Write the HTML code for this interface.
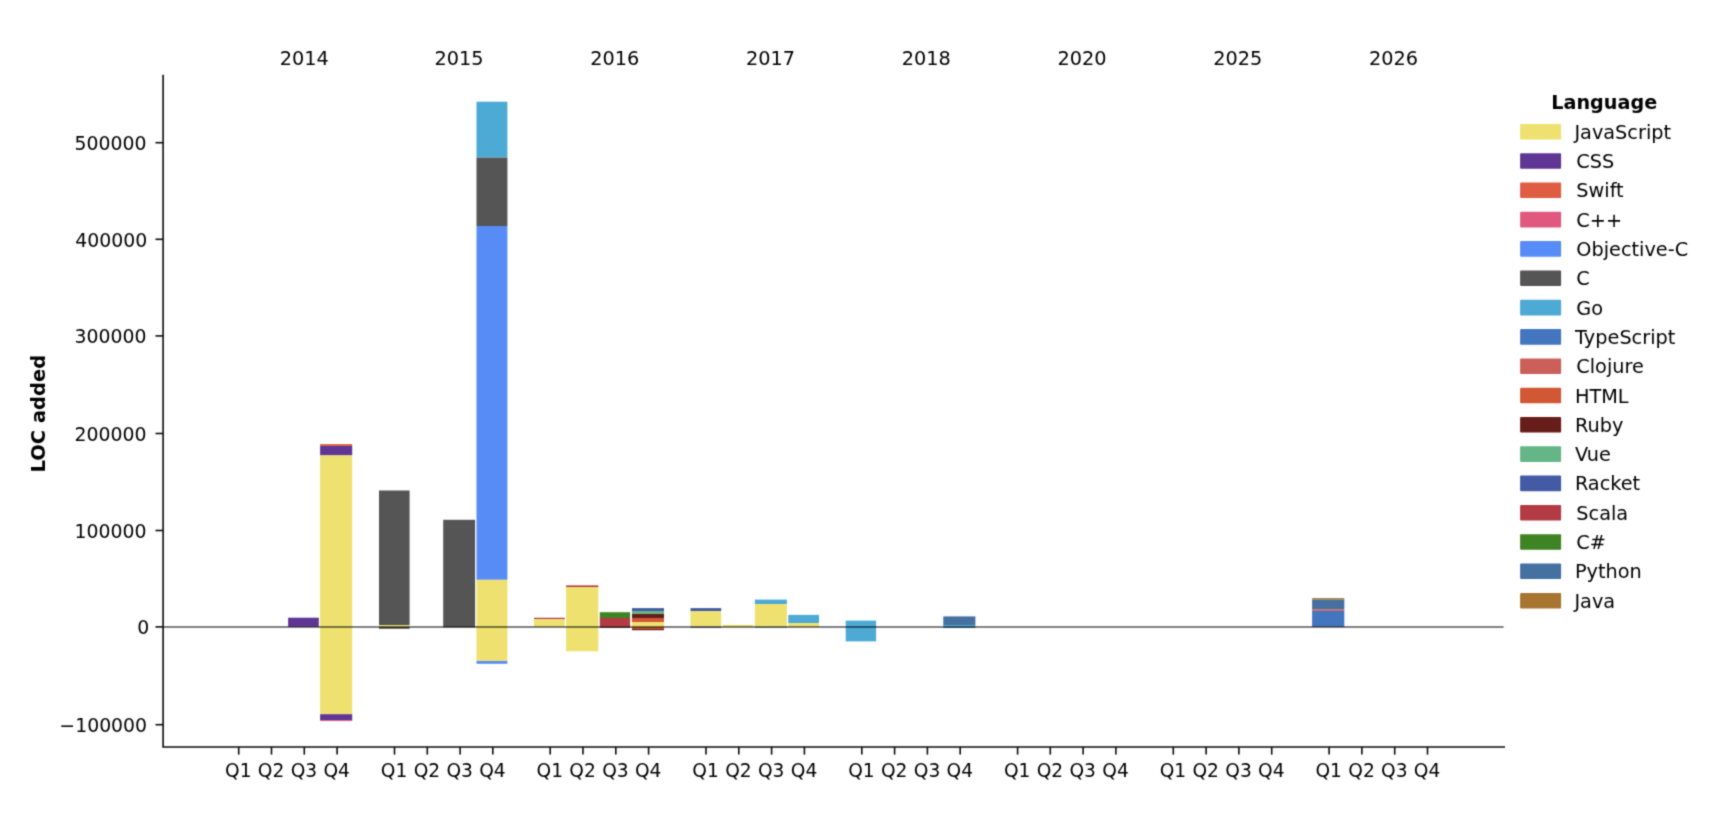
<!DOCTYPE html>
<html lang="en"><head><meta charset="utf-8"><title>LOC added by language</title>
<style>html,body{margin:0;padding:0;background:#fff}body{width:1732px;height:830px;overflow:hidden}svg{display:block}svg{font-size:19.3px}text{font-family:"DejaVu Sans","Liberation Sans",sans-serif;fill:#000}.b{font-weight:bold}.yt{font-size:18.85px}.xt{font-size:18.6px}.lt{font-size:19.2px}.yl{font-size:19.5px}</style></head><body>
<svg width="1732" height="830" viewBox="0 0 1732 830">
<defs><filter id="soft" x="0" y="0" width="1732" height="830" filterUnits="userSpaceOnUse" color-interpolation-filters="sRGB"><feConvolveMatrix order="3" kernelMatrix="0.0289 0.1122 0.0289 0.1122 0.4356 0.1122 0.0289 0.1122 0.0289" divisor="1" edgeMode="duplicate" preserveAlpha="true"/></filter></defs>
<g filter="url(#soft)">
<rect width="1732" height="830" fill="#fff"/>
<g shape-rendering="auto">
<rect x="288.1" y="617.7" width="30.7" height="9.1" fill="#5f3694"/>
<rect x="320.1" y="444.1" width="32.1" height="1.9" fill="#de5d43"/>
<rect x="320.1" y="446.0" width="32.1" height="9.4" fill="#5f3694"/>
<rect x="320.1" y="455.4" width="32.1" height="258.8" fill="#eee170"/>
<rect x="320.1" y="714.2" width="32.1" height="5.9" fill="#5f3694"/>
<rect x="320.1" y="720.1" width="32.1" height="1.0" fill="#e1587e"/>
<rect x="379.0" y="490.5" width="30.6" height="134.5" fill="#555555"/>
<rect x="379.0" y="625.0" width="30.6" height="1.9" fill="#eee170"/>
<rect x="379.0" y="626.9" width="30.6" height="1.9" fill="#555555"/>
<rect x="443.2" y="519.8" width="31.9" height="107.5" fill="#555555"/>
<rect x="476.5" y="101.7" width="30.9" height="55.9" fill="#4daad4"/>
<rect x="476.5" y="157.6" width="30.9" height="68.4" fill="#555555"/>
<rect x="476.5" y="226.0" width="30.9" height="353.8" fill="#578cf7"/>
<rect x="476.5" y="579.8" width="30.9" height="81.2" fill="#eee170"/>
<rect x="476.5" y="661.0" width="30.9" height="2.8" fill="#578cf7"/>
<rect x="534.0" y="617.8" width="30.8" height="1.4" fill="#b33b44"/>
<rect x="534.0" y="619.2" width="30.8" height="7.6" fill="#eee170"/>
<rect x="566.1" y="585.4" width="32.2" height="1.6" fill="#b33b44"/>
<rect x="566.1" y="587.0" width="32.2" height="64.3" fill="#eee170"/>
<rect x="599.8" y="612.2" width="30.3" height="5.8" fill="#3f8424"/>
<rect x="599.8" y="618.0" width="30.3" height="8.9" fill="#b33b44"/>
<rect x="599.8" y="626.9" width="30.3" height="0.8" fill="#671d1a"/>
<rect x="632.0" y="608.1" width="32.0" height="2.9" fill="#435ba5"/>
<rect x="632.0" y="611.0" width="32.0" height="3.0" fill="#64b687"/>
<rect x="632.0" y="614.0" width="32.0" height="4.0" fill="#671d1a"/>
<rect x="632.0" y="618.0" width="32.0" height="4.0" fill="#d25735"/>
<rect x="632.0" y="622.0" width="32.0" height="4.9" fill="#eee170"/>
<rect x="632.0" y="626.9" width="32.0" height="2.1" fill="#d25735"/>
<rect x="632.0" y="629.0" width="32.0" height="1.2" fill="#671d1a"/>
<rect x="690.5" y="608.1" width="30.7" height="2.9" fill="#435ba5"/>
<rect x="690.5" y="611.0" width="30.7" height="15.9" fill="#eee170"/>
<rect x="690.5" y="626.9" width="30.7" height="0.8" fill="#435ba5"/>
<rect x="723.0" y="624.8" width="30.1" height="2.1" fill="#eee170"/>
<rect x="754.9" y="599.6" width="32.0" height="4.4" fill="#4daad4"/>
<rect x="754.9" y="604.0" width="32.0" height="22.9" fill="#eee170"/>
<rect x="754.9" y="626.9" width="32.0" height="0.8" fill="#64b687"/>
<rect x="788.3" y="614.9" width="30.7" height="8.2" fill="#4daad4"/>
<rect x="788.3" y="623.1" width="30.7" height="3.8" fill="#eee170"/>
<rect x="845.7" y="620.6" width="30.4" height="20.8" fill="#4daad4"/>
<rect x="943.3" y="616.4" width="32.1" height="8.6" fill="#4571a1"/>
<rect x="943.3" y="625.0" width="32.1" height="1.9" fill="#4daad4"/>
<rect x="943.3" y="626.9" width="32.1" height="0.9" fill="#4571a1"/>
<rect x="1312.1" y="598.1" width="32.2" height="1.6" fill="#a7752f"/>
<rect x="1312.1" y="599.7" width="32.2" height="9.5" fill="#4571a1"/>
<rect x="1312.1" y="609.2" width="32.2" height="1.7" fill="#cb605a"/>
<rect x="1312.1" y="610.9" width="32.2" height="16.0" fill="#4476c0"/>
</g>
<line x1="163.1" x2="1503.6" y1="626.9" y2="626.9" stroke="#000" stroke-opacity="0.66" stroke-width="1.5"/>
<g stroke="#0c0c0c" stroke-width="1.6" fill="none" stroke-linecap="square">
<path d="M163.1 75.6V747.0H1504.2"/>
</g><g stroke="#0c0c0c" stroke-width="1.6" fill="none">
<path d="M155.5 142.7h7.6"/>
<path d="M155.5 239.3h7.6"/>
<path d="M155.5 335.9h7.6"/>
<path d="M155.5 433.5h7.6"/>
<path d="M155.5 530.5h7.6"/>
<path d="M155.5 626.9h7.6"/>
<path d="M155.5 724.7h7.6"/>
<path d="M238.7 747.0v7.6"/>
<path d="M271.5 747.0v7.6"/>
<path d="M304.3 747.0v7.6"/>
<path d="M337.1 747.0v7.6"/>
<path d="M394.5 747.0v7.6"/>
<path d="M427.3 747.0v7.6"/>
<path d="M460.1 747.0v7.6"/>
<path d="M492.8 747.0v7.6"/>
<path d="M550.2 747.0v7.6"/>
<path d="M583.0 747.0v7.6"/>
<path d="M615.8 747.0v7.6"/>
<path d="M648.6 747.0v7.6"/>
<path d="M706.0 747.0v7.6"/>
<path d="M738.8 747.0v7.6"/>
<path d="M771.6 747.0v7.6"/>
<path d="M804.4 747.0v7.6"/>
<path d="M861.8 747.0v7.6"/>
<path d="M894.6 747.0v7.6"/>
<path d="M927.4 747.0v7.6"/>
<path d="M960.2 747.0v7.6"/>
<path d="M1017.6 747.0v7.6"/>
<path d="M1050.3 747.0v7.6"/>
<path d="M1083.1 747.0v7.6"/>
<path d="M1115.9 747.0v7.6"/>
<path d="M1173.3 747.0v7.6"/>
<path d="M1206.1 747.0v7.6"/>
<path d="M1238.9 747.0v7.6"/>
<path d="M1271.7 747.0v7.6"/>
<path d="M1329.1 747.0v7.6"/>
<path d="M1361.9 747.0v7.6"/>
<path d="M1394.7 747.0v7.6"/>
<path d="M1427.5 747.0v7.6"/>
</g>
<g text-anchor="end" class="yt">
<text x="146.5" y="150.1">500000</text>
<text x="147.3" y="246.7">400000</text>
<text x="146.5" y="343.3">300000</text>
<text x="146.5" y="440.9">200000</text>
<text x="146.5" y="537.9">100000</text>
<text x="149.2" y="634.2">0</text>
<text x="147.1" y="732.1">−100000</text>
</g><g text-anchor="middle">
<text x="238.3" y="777.3" class="xt">Q1</text>
<text x="271.1" y="777.3" class="xt">Q2</text>
<text x="303.9" y="777.3" class="xt">Q3</text>
<text x="336.7" y="777.3" class="xt">Q4</text>
<text x="394.1" y="777.3" class="xt">Q1</text>
<text x="426.9" y="777.3" class="xt">Q2</text>
<text x="459.7" y="777.3" class="xt">Q3</text>
<text x="492.4" y="777.3" class="xt">Q4</text>
<text x="549.8" y="777.3" class="xt">Q1</text>
<text x="582.6" y="777.3" class="xt">Q2</text>
<text x="615.4" y="777.3" class="xt">Q3</text>
<text x="648.2" y="777.3" class="xt">Q4</text>
<text x="705.6" y="777.3" class="xt">Q1</text>
<text x="738.4" y="777.3" class="xt">Q2</text>
<text x="771.2" y="777.3" class="xt">Q3</text>
<text x="804.0" y="777.3" class="xt">Q4</text>
<text x="861.4" y="777.3" class="xt">Q1</text>
<text x="894.2" y="777.3" class="xt">Q2</text>
<text x="927.0" y="777.3" class="xt">Q3</text>
<text x="959.8" y="777.3" class="xt">Q4</text>
<text x="1017.2" y="777.3" class="xt">Q1</text>
<text x="1049.9" y="777.3" class="xt">Q2</text>
<text x="1082.7" y="777.3" class="xt">Q3</text>
<text x="1115.5" y="777.3" class="xt">Q4</text>
<text x="1172.9" y="777.3" class="xt">Q1</text>
<text x="1205.7" y="777.3" class="xt">Q2</text>
<text x="1238.5" y="777.3" class="xt">Q3</text>
<text x="1271.3" y="777.3" class="xt">Q4</text>
<text x="1328.7" y="777.3" class="xt">Q1</text>
<text x="1361.5" y="777.3" class="xt">Q2</text>
<text x="1394.3" y="777.3" class="xt">Q3</text>
<text x="1427.1" y="777.3" class="xt">Q4</text>
<text x="304.2" y="65.0">2014</text>
<text x="459.0" y="65.0">2015</text>
<text x="614.7" y="65.0">2016</text>
<text x="770.5" y="65.0">2017</text>
<text x="926.3" y="65.0">2018</text>
<text x="1082.0" y="65.0">2020</text>
<text x="1237.8" y="65.0">2025</text>
<text x="1393.6" y="65.0">2026</text>
<text class="b yl" transform="translate(45.3 413.7) rotate(-90)">LOC added</text>
<text class="b lt" x="1604.2" y="108.9">Language</text>
</g>
<rect x="1520.1" y="123.9" width="41" height="15.6" rx="1" fill="#eee170"/>
<text x="1574.4" y="138.7">JavaScript</text>
<rect x="1520.1" y="153.2" width="41" height="15.6" rx="1" fill="#5f3694"/>
<text x="1576.3" y="168.0">CSS</text>
<rect x="1520.1" y="182.5" width="41" height="15.6" rx="1" fill="#de5d43"/>
<text x="1576.3" y="197.3">Swift</text>
<rect x="1520.1" y="211.8" width="41" height="15.6" rx="1" fill="#e1587e"/>
<text x="1576.3" y="226.6">C++</text>
<rect x="1520.1" y="241.1" width="41" height="15.6" rx="1" fill="#578cf7"/>
<text x="1576.3" y="255.9">Objective-C</text>
<rect x="1520.1" y="270.4" width="41" height="15.6" rx="1" fill="#555555"/>
<text x="1576.3" y="285.2">C</text>
<rect x="1520.1" y="299.8" width="41" height="15.6" rx="1" fill="#4daad4"/>
<text x="1576.3" y="314.6">Go</text>
<rect x="1520.1" y="329.1" width="41" height="15.6" rx="1" fill="#4476c0"/>
<text x="1575.1" y="343.9">TypeScript</text>
<rect x="1520.1" y="358.4" width="41" height="15.6" rx="1" fill="#cb605a"/>
<text x="1576.3" y="373.2">Clojure</text>
<rect x="1520.1" y="387.7" width="41" height="15.6" rx="1" fill="#d25735"/>
<text x="1574.9" y="402.5">HTML</text>
<rect x="1520.1" y="417.0" width="41" height="15.6" rx="1" fill="#671d1a"/>
<text x="1574.9" y="431.8">Ruby</text>
<rect x="1520.1" y="446.3" width="41" height="15.6" rx="1" fill="#64b687"/>
<text x="1574.9" y="461.1">Vue</text>
<rect x="1520.1" y="475.6" width="41" height="15.6" rx="1" fill="#435ba5"/>
<text x="1574.9" y="490.4">Racket</text>
<rect x="1520.1" y="504.9" width="41" height="15.6" rx="1" fill="#b33b44"/>
<text x="1576.3" y="519.7">Scala</text>
<rect x="1520.1" y="534.2" width="41" height="15.6" rx="1" fill="#3f8424"/>
<text x="1576.3" y="549.0">C#</text>
<rect x="1520.1" y="563.5" width="41" height="15.6" rx="1" fill="#4571a1"/>
<text x="1574.9" y="578.3">Python</text>
<rect x="1520.1" y="592.9" width="41" height="15.6" rx="1" fill="#a7752f"/>
<text x="1574.4" y="607.7">Java</text>
</g></svg></body></html>
